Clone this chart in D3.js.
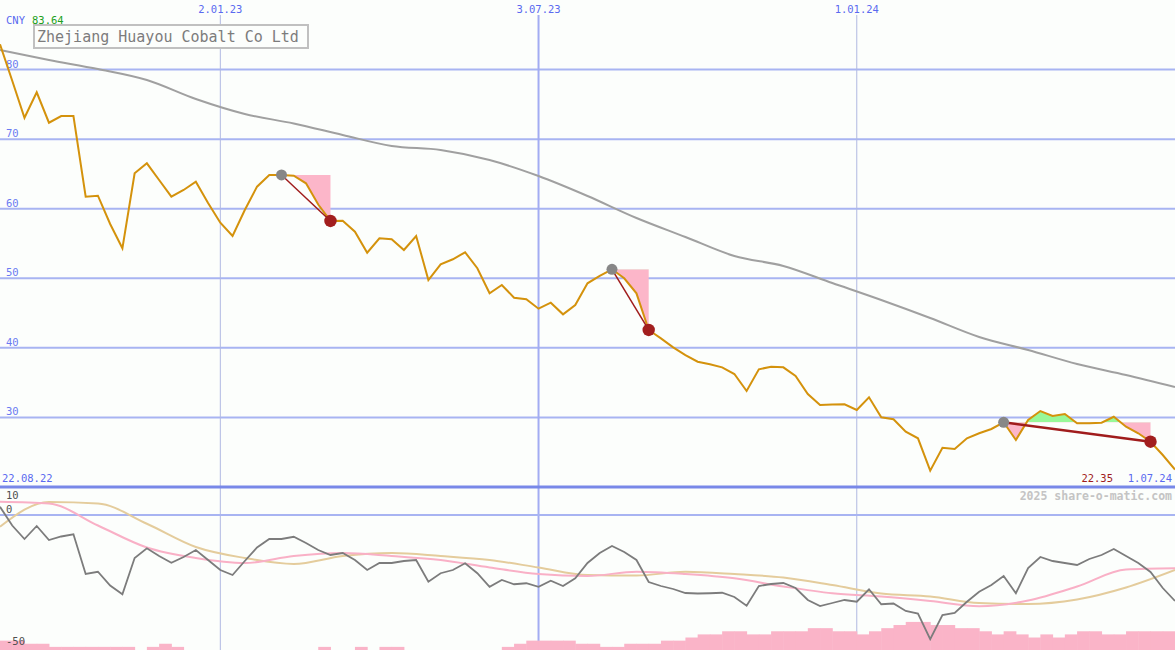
<!DOCTYPE html>
<html><head><meta charset="utf-8">
<script src="https://cdn.jsdelivr.net/npm/d3@7"></script>
<style>
html,body{margin:0;padding:0;background:#fcfefc;}
svg{display:block;}
text{font-family:"DejaVu Sans Mono",monospace;}
</style></head><body>
<svg id="c" width="1175" height="650"></svg>
<script>
// ---------- DATA ----------
const title = "Zhejiang Huayou Cobalt Co Ltd";
const currency = "CNY";
const maxLabel = "83.64";
const minLabel = "22.35";
const startLabel = "22.08.22";
const endLabel = "1.07.24";
const credit = "2025 share-o-matic.com";
const firstWeek = "2022-08-29";           // weekly closes from here to 2024-07-01
const price = [83.64,78.4,73.08,76.73,72.36,73.32,73.32,61.73,61.87,57.8,
  54.31,65.09,66.53,64.13,61.73,62.69,63.88,60.82,57.99,56.08,
  59.82,63.17,64.85,64.85,64.75,63.65,60.6,58.24,58.28,56.7,
  53.68,55.75,55.6,54.07,56.08,49.75,52.01,52.73,53.74,51.44,
  47.84,49.04,47.21,46.98,45.63,46.49,44.82,46.16,49.28,50.33,
  51.29,50.0,47.84,42.57,41.37,40.08,38.97,38.01,37.64,37.2,
  36.24,33.8,36.92,37.29,37.2,35.96,33.37,31.79,31.86,31.89,
  31.07,32.89,30.02,29.73,27.95,27.0,22.35,25.65,25.46,27.0,
  27.72,28.34,29.3,26.76,29.63,30.92,30.21,30.49,29.16,29.16,
  29.24,30.1,28.67,27.72,26.51,24.6,22.5];
// long moving average, sampled every 4 weeks
const movingAvg = [82.81,81.38,80.08,78.5,75.77,73.62,72.25,70.6,69.02,68.44,
  67.0,64.7,61.83,58.67,55.94,53.2,51.77,49.32,46.88,44.29,
  41.56,39.69,37.68,36.1,34.37];
// lower panel oscillator (weekly)
const oscillator = [3.3,-4.2,-9.6,-4.4,-10,-8.6,-7.7,-23.6,-22.7,-28.2,
  -31.7,-17.2,-13.3,-16.4,-19.1,-16.8,-14,-18,-22,-24,
  -18.4,-13,-9.6,-9.6,-8.7,-11.2,-14,-16,-15.2,-18,
  -22,-19.2,-19.2,-18.4,-18,-26.7,-23.3,-22,-19.3,-23.3,
  -28.7,-26,-27.7,-27.3,-28.7,-26.3,-28.4,-25.3,-19.2,-15.2,
  -12.4,-14.8,-18,-26.8,-28.4,-29.6,-31.2,-31.4,-31.3,-31.1,
  -32.8,-36.3,-28.4,-27.6,-27.2,-29.2,-34,-36.4,-35.2,-34,
  -34.7,-29.7,-35.7,-35.4,-38.4,-39.4,-49.7,-40,-39.2,-34.7,
  -30.7,-28,-24.4,-31.3,-21.2,-16.8,-18.4,-19.2,-20,-17.6,
  -16,-13.6,-16.4,-19.2,-22.8,-29.2,-34.4];
// smoothed signal lines, sampled every 4 weeks
const signalPink = [5.3,4.6,-4.2,-13,-17.2,-19.2,-16.4,-15.2,-16.4,-18,
  -21,-23.6,-24.4,-22.7,-23.6,-25.3,-28.6,-31.3,-32.6,-34.4,
  -36.5,-34.2,-28.6,-21.8,-21.3];
const signalTan = [-4.7,5.2,4.6,-3.5,-12.8,-17.2,-19.6,-16.4,-15.2,-16.4,
  -18,-21,-24,-24.2,-22.7,-23.6,-25,-28,-31.4,-32.6,
  -35.2,-35.6,-33.8,-29,-22];
// weekly volume level (one bar per week interval)
const volume = [3,3,2,2,1,1,1,1,1,1,1,0,1,2,1,0,0,0,0,0,
  0,0,0,0,0,0,1,0,0,1,0,1,1,0,0,0,0,0,0,0,
  0,1,2,3,3,3,3,2,2,1,1,2,2,2,3,3,4,5,5,6,
  6,5,5,6,6,6,7,7,6,6,5,6,7,8,9,9,8,8,7,7,
  6,5,6,5,4,5,4,5,6,6,5,5,6,6,6,6];
const priceTicks = [80,70,60,50,40,30];
const dateTicks = ["2023-01-02","2023-07-03","2024-01-01"];
const oscLabels = [10,0,-50];
// trend annotations: [start week index, end week index]
const trends = [[23,27],[50,53],[82,94]];

// ---------- CHART ----------
const W = 1175, H = 650;
const svg = d3.select("#c");
svg.append("rect").attr("width",W).attr("height",H).attr("fill","#fcfefc");

const parse = d3.utcParse("%Y-%m-%d");
const t0 = parse(firstWeek);
const dates = price.map((_,i)=>d3.utcDay.offset(t0, 7*i));
const maDates = movingAvg.map((_,i)=>dates[i*4]);
const fmt = d3.utcFormat("%-d.%m.%y");

const x = d3.scaleUtc().domain([dates[0], dates[dates.length-1]]).range([0, W]);
const y = d3.scaleLinear().domain([20, 90]).range([487, 0]);
const yo = d3.scaleLinear().domain([0, -50]).range([515, 640]);
const yv = d3.scaleLinear().domain([0, 10]).range([650, 618.8]);

const gridC = "#a8b4f2", blueT = "#5a6af0";

// horizontal price gridlines + labels
const gy = svg.append("g");
gy.selectAll("line").data(priceTicks).join("line")
  .attr("x1",0).attr("x2",W).attr("y1",d=>y(d)).attr("y2",d=>y(d))
  .attr("stroke",gridC).attr("stroke-width",2);
gy.selectAll("text").data(priceTicks).join("text")
  .attr("x",6).attr("y",d=>y(d)-2).attr("fill","#6a7af2").attr("font-size",10.5).text(d=>d);

// vertical date lines + labels
const gx = svg.append("g");
gx.selectAll("line").data(dateTicks).join("line")
  .attr("x1",d=>x(parse(d))).attr("x2",d=>x(parse(d))).attr("y1",15).attr("y2",H)
  .attr("stroke",(d,i)=>i===1?"#a2acf2":"#b0b8e2").attr("stroke-width",(d,i)=>i===1?2:1);
gx.selectAll("text").data(dateTicks).join("text")
  .attr("x",d=>x(parse(d))).attr("y",13).attr("text-anchor","middle")
  .attr("fill",blueT).attr("font-size",10.5).text(d=>fmt(parse(d)));

// panel separators
svg.append("line").attr("x1",0).attr("x2",W).attr("y1",y(20)).attr("y2",y(20))
  .attr("stroke","#7888e8").attr("stroke-width",3);
svg.append("line").attr("x1",0).attr("x2",W).attr("y1",yo(0)).attr("y2",yo(0))
  .attr("stroke",gridC).attr("stroke-width",2);

// long moving average
svg.append("path").datum(movingAvg)
  .attr("d", d3.line().x((d,i)=>x(maDates[i])).y(d=>y(d)).curve(d3.curveMonotoneX))
  .attr("fill","none").attr("stroke","#a0a0a0").attr("stroke-width",2);

// trend fills
const defs = svg.append("defs");
trends.forEach(([s,e],k)=>{
  const base = price[s];
  const pts = d3.range(s,e+1);
  const area = d3.area().x(i=>x(dates[i])).y0(y(base)).y1(i=>y(price[i]));
  defs.append("clipPath").attr("id","ab"+k).append("rect")
    .attr("x",0).attr("y",0).attr("width",W).attr("height",y(base));
  defs.append("clipPath").attr("id","be"+k).append("rect")
    .attr("x",0).attr("y",y(base)).attr("width",W).attr("height",H);
  svg.append("path").datum(pts).attr("d",area).attr("fill","#98f898").attr("clip-path",`url(#ab${k})`);
  svg.append("path").datum(pts).attr("d",area).attr("fill","#fcb6c9").attr("clip-path",`url(#be${k})`);
});

// price line
svg.append("path").datum(price)
  .attr("d", d3.line().x((d,i)=>x(dates[i])).y(d=>y(d)))
  .attr("fill","none").attr("stroke","#d4920c").attr("stroke-width",2);

// trend lines and dots
trends.forEach(([s,e],k)=>{
  svg.append("line").attr("x1",x(dates[s])).attr("y1",y(price[s]))
    .attr("x2",x(dates[e])).attr("y2",y(price[e]))
    .attr("stroke","#a01c1c").attr("stroke-width",k===2?2.5:1.5);
  svg.append("circle").attr("cx",x(dates[s])).attr("cy",y(price[s])).attr("r",5.5).attr("fill","#878787");
  svg.append("circle").attr("cx",x(dates[e])).attr("cy",y(price[e])).attr("r",6.2).attr("fill","#a21e1e");
});

// title box
svg.append("rect").attr("x",34).attr("y",25).attr("width",274).attr("height",23)
  .attr("fill","#fcfefc").attr("stroke","#c0c0c0").attr("stroke-width",2);
svg.append("text").attr("x",37).attr("y",42).attr("fill","#7c7c7c").attr("font-size",15).text(title);

// corner labels
svg.append("text").attr("x",6).attr("y",24).attr("fill",blueT).attr("font-size",10.5).text(currency);
svg.append("text").attr("x",32).attr("y",24).attr("fill","#20a020").attr("font-size",10.5).text(maxLabel);
svg.append("text").attr("x",2).attr("y",482).attr("fill",blueT).attr("font-size",10.5).text(startLabel);
svg.append("text").attr("x",1172).attr("y",482).attr("text-anchor","end").attr("fill",blueT).attr("font-size",10.5).text(endLabel);
svg.append("text").attr("x",1113).attr("y",482).attr("text-anchor","end").attr("fill","#a01c1c").attr("font-size",10.5).text(minLabel);
svg.append("text").attr("x",1172).attr("y",500).attr("text-anchor","end").attr("fill","#c4c4c4")
  .attr("font-size",11.5).attr("font-weight","bold").text(credit);

// ---------- lower panel ----------
svg.append("g").selectAll("rect").data(volume).join("rect")
  .attr("x",(d,i)=>x(dates[i])).attr("width",(d,i)=>x(dates[i+1])-x(dates[i])+0.5)
  .attr("y",d=>yv(d)).attr("height",d=>yv(0)-yv(d)).attr("fill","#fab4c8");

const sig = d3.line().x((d,i)=>x(maDates[i])).y(d=>yo(d)).curve(d3.curveMonotoneX);
svg.append("path").datum(signalTan).attr("d",sig).attr("fill","none").attr("stroke","#e4cc9c").attr("stroke-width",2);
svg.append("path").datum(signalPink).attr("d",sig).attr("fill","none").attr("stroke","#f9b0c6").attr("stroke-width",2);
svg.append("path").datum(oscillator)
  .attr("d", d3.line().x((d,i)=>x(dates[i])).y(d=>yo(d)))
  .attr("fill","none").attr("stroke","#7c7c7c").attr("stroke-width",1.8);

svg.append("g").selectAll("text").data(oscLabels).join("text")
  .attr("x",6).attr("y",d=>d===10?yo(d)+9:(d===0?yo(d)-2:yo(d)+5))
  .attr("fill","#505050").attr("font-size",10.5).text(d=>d);
</script>
</body></html>
